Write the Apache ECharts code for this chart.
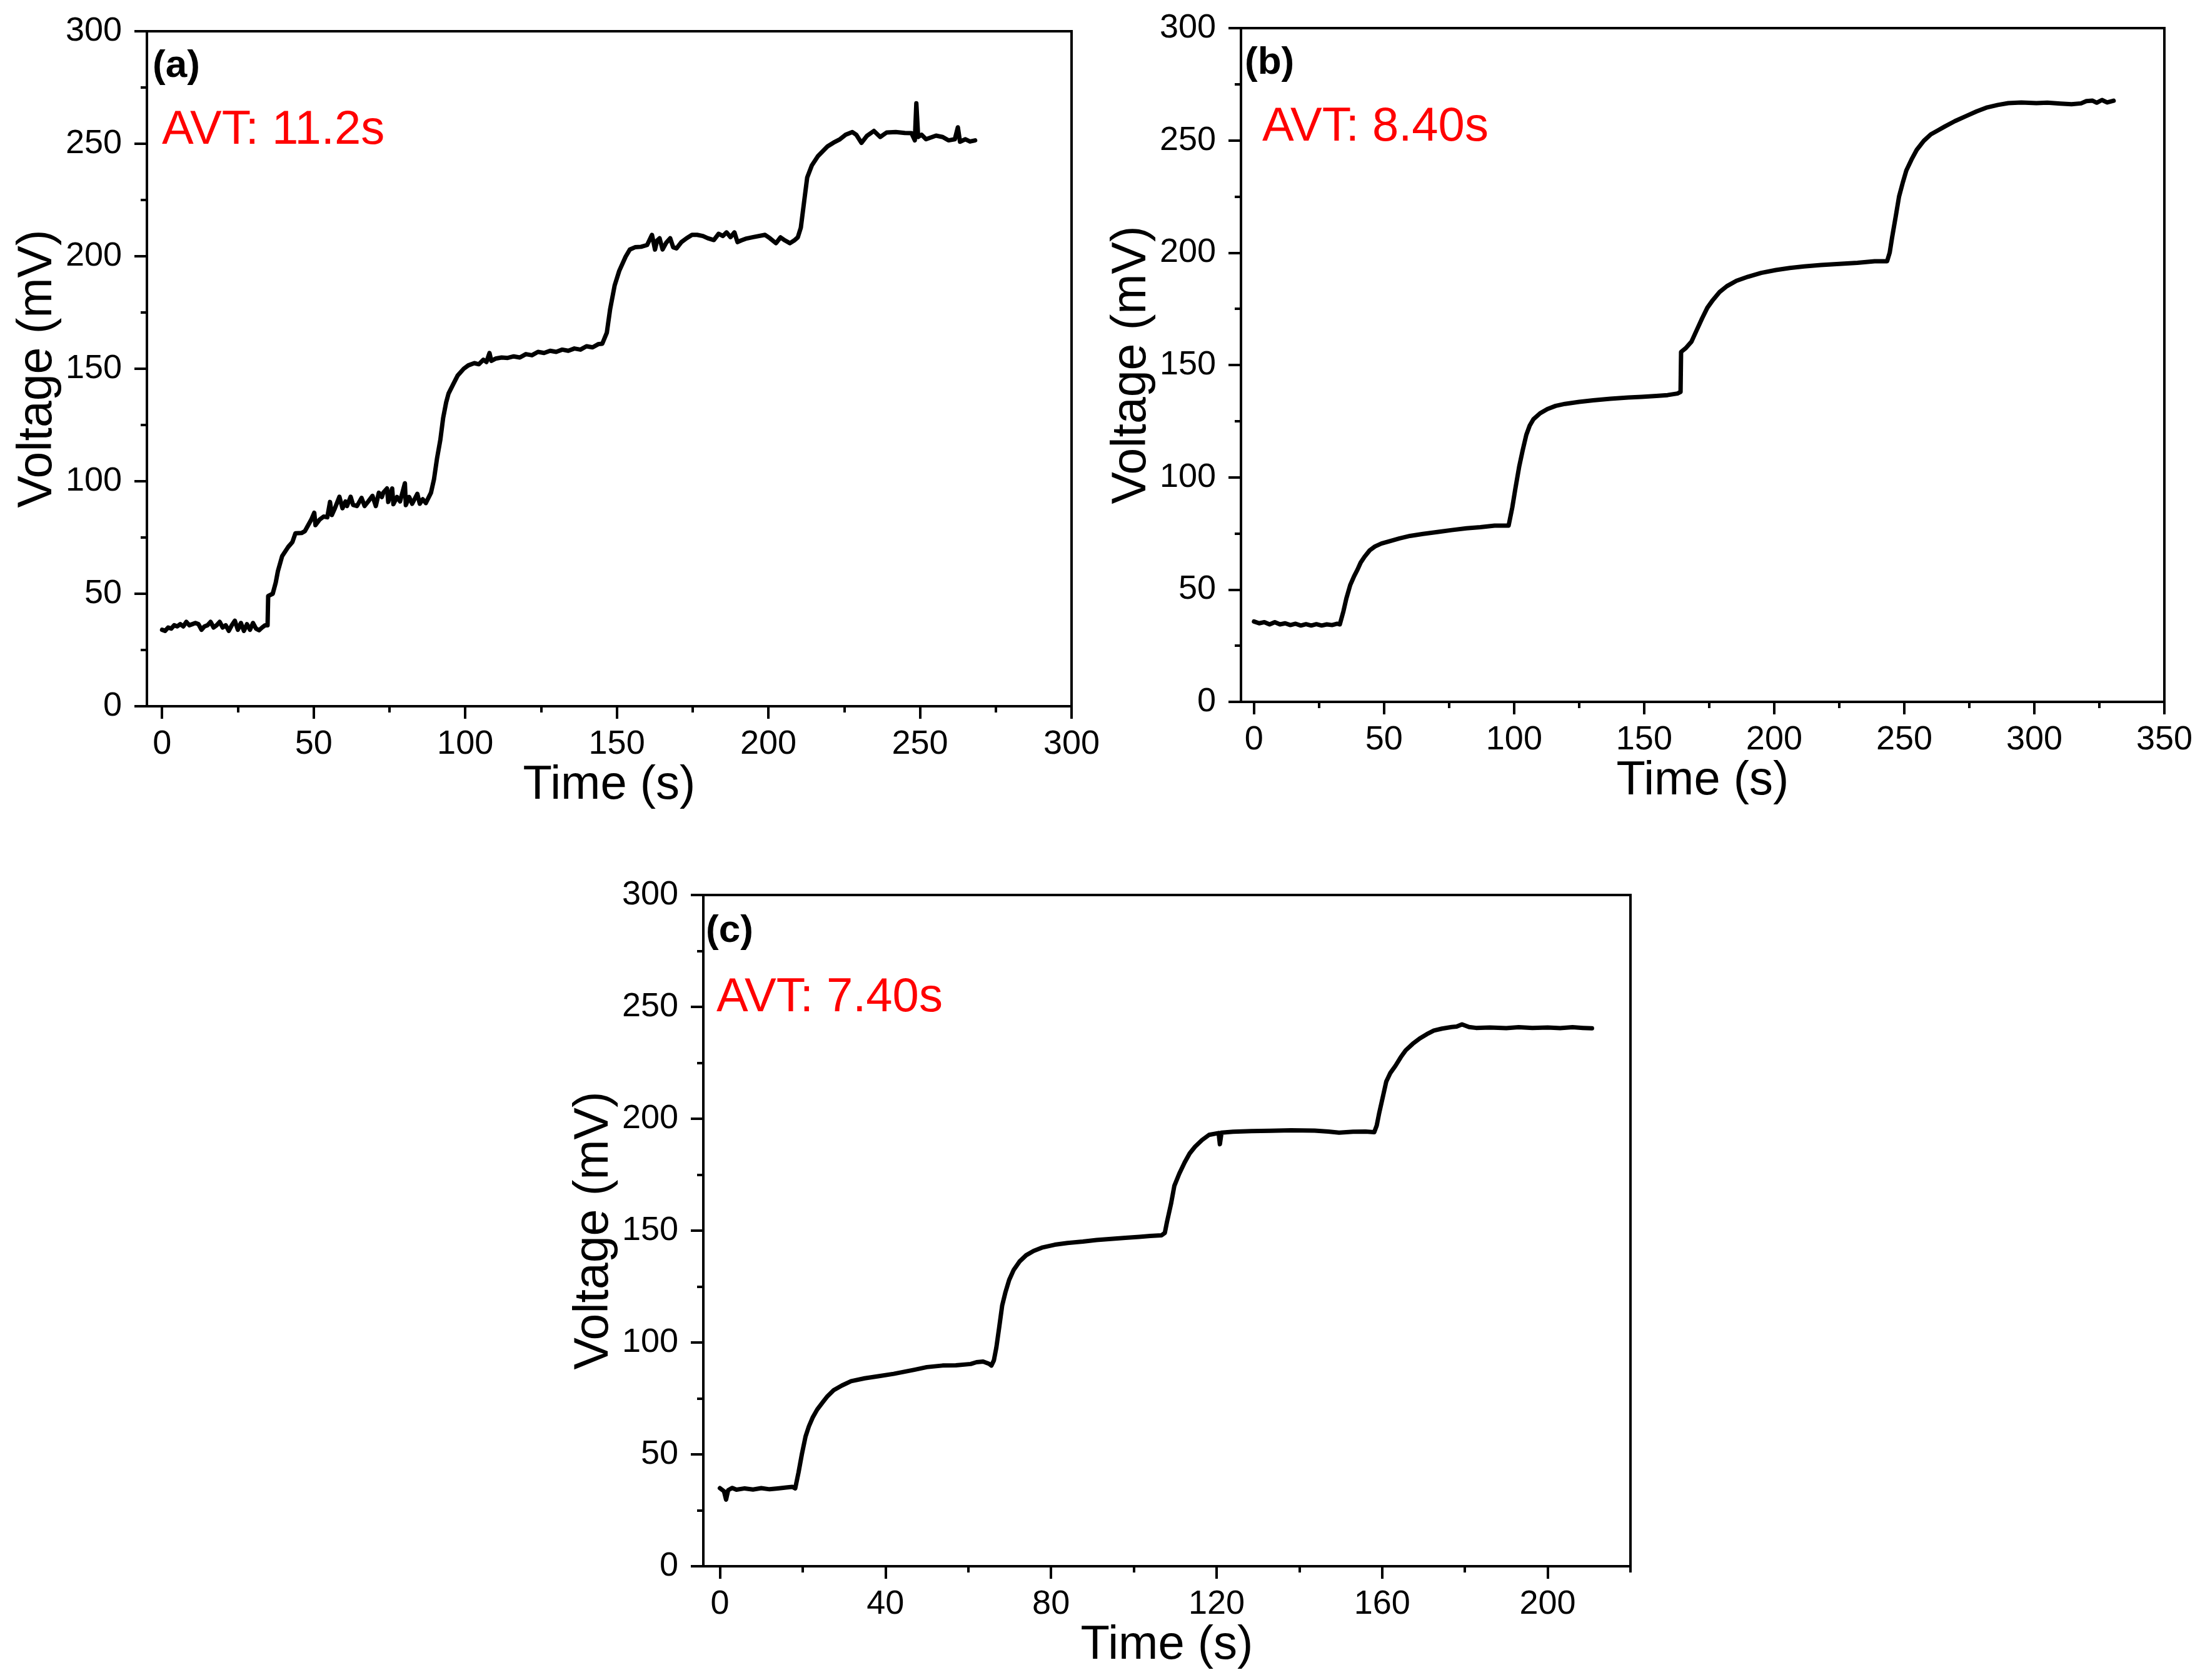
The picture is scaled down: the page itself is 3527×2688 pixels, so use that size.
<!DOCTYPE html>
<html>
<head>
<meta charset="utf-8">
<title>AVT voltage steps</title>
<script src="https://cdn.jsdelivr.net/npm/echarts@6/dist/echarts.min.js"></script>
<style>
  html, body { margin: 0; padding: 0; background: #fff; }
  #chart { width: 3527px; height: 2688px; }
</style>
</head>
<body>
<div id="chart"></div>
<script>
// voltage traces, [time (s), voltage (mV)]
const traceA = [
  [0,34],[1,33.5],[2,35],[3,34.5],[4,36],[5,35.5],[6,36.5],[7,35.5],[8,37.5],[9,36],[10,36.5],[11,37],[12,36.5],
  [13,34],[14,35.5],[15,36],[16,37.5],[17,35],[18,36],[19,37.5],[20,35],[21,36],[22,33.5],[23,36],[24,38],
  [25,34],[26,37],[27,33.5],[28,36.5],[29,34],[30,37],[31,34.5],[32,33.8],[33,35],[34,36],[34.8,36],
  [35,49],[36.5,50],[37.5,55],[38.2,60],[39.6,66.7],[41.6,70.8],[43,73],[44,76.9],[46,77],[47.1,77.8],
  [48,80],[49.2,82.9],[50.2,86],[50.6,80.5],[52,83],[53.3,84.3],[54.5,84],[55.4,90.8],[56,85],[57,88],
  [58.5,93.1],[59.5,88],[60.5,91],[61,89],[62.2,93.1],[63,89.5],[64.3,89],[65.8,92.6],[66.8,89],[68,91],
  [69.4,93.5],[70.5,89],[71.5,94.9],[72.5,93],[73,95],[74.2,96.8],[74.6,90.8],[75.9,96.8],[76.3,89.8],
  [77.5,93],[78.5,91],[80.1,99.1],[80.4,89.4],[81.5,93],[82.5,90],[84.2,94.4],[85,90],[86,92],[87,90.3],
  [88.7,94.9],[89.7,100.9],[90.7,110.2],[91.8,118.5],[92.7,128],[93.7,135],[94.5,139],[96,143],[97.5,147],
  [99.5,150],[101,151.5],[103,152.5],[104.5,152],[106,154],[107,153],[108,157],[108.6,153.5],[110,154.5],
  [112,155],[114,154.8],[116,155.5],[118,155],[120,156.5],[122,156],[124,157.5],[126,157],[128,158],
  [130,157.5],[132,158.5],[134,158],[136,159],[138,158.5],[140,160],[142,159.5],[144,161],[145.2,161.1],
  [146.7,166],[147.8,176.5],[149.3,187.1],[150.8,193.5],[152.9,199.8],[154.3,203],[156,204],[158,204.2],
  [160,205],[161.6,209.5],[162.6,203],[163.3,207],[164.1,208],[165.1,203],[166.3,206],[167.6,208],
  [168.6,204],[169.7,203.5],[171.3,206.3],[173,208],[174.8,209.5],[176.5,209.5],[178.4,209],[180,208],
  [182,207.2],[183.6,210],[185,209],[186.2,210.6],[187.5,208.5],[188.8,210.6],[189.8,206.3],[191,207],
  [192.8,207.9],[195,208.5],[198.9,209.5],[200.5,208],[202.5,205.8],[204,208.4],[205.5,207],[207.1,205.8],
  [208.5,207],[209.7,208.4],[210.7,212.7],[211.8,224.4],[212.8,235],[214.3,240.3],[216.4,244.6],
  [219.5,248.8],[221.5,250.5],[223.6,252],[225.5,254],[227.7,255.2],[229,254],[230.7,250.4],[232.5,253.5],
  [234.8,255.7],[236.9,253],[239,255],[242,255.2],[245,254.8],[247.2,254.7],[248.3,251.5],[248.8,268],
  [249.1,268],[249.4,253],[250.5,254],[252,252],[255.3,253.6],[257.5,253],[259.4,251.5],[261.5,252],
  [262.5,257.3],[262.8,257.3],[263.2,250.9],[265,252],[266.5,251],[268.2,251.5]
];

const traceB = [
  [0,35.8],[2,35],[4,35.5],[6,34.5],[8,35.5],[10,34.5],[12,35],[14,34.2],[16,34.8],[18,34],[20,34.6],
  [22,34],[24,34.6],[26,34],[28,34.5],[30,34.2],[32,34.8],[33,34.5],[34.4,40.4],[35.5,46],[37,52],
  [38.5,56],[39.8,58.9],[41,62],[42.5,64.6],[44.5,67.5],[46.5,69.2],[49,70.5],[52,71.5],[56,72.8],
  [60,73.9],[65,74.8],[70.9,75.7],[76,76.5],[81.7,77.3],[87,77.8],[92.5,78.5],[97.9,78.5],[99.3,86.5],
  [100.5,95],[102,105],[103.3,112],[104.7,118.9],[106,123],[107.4,125.8],[110,128.5],[112.8,130.4],
  [116,131.8],[119.6,132.7],[125,133.6],[130.4,134.3],[137,135],[143.9,135.5],[149,135.8],[154.7,136.2],
  [159,136.6],[162.8,137.3],[164,138],[164.2,155.8],[166,157.5],[168.2,160.4],[170,165],[172.3,170.8],
  [174.3,175.5],[176.4,178.9],[179,182.5],[181.8,185.1],[185.5,187.5],[189.9,189.3],[195,191],
  [200.7,192.3],[206,193.2],[211.5,193.9],[218,194.5],[225,195],[232,195.5],[238.6,196.2],[243.4,196.2],
  [244.4,200],[245.3,206.6],[246.7,216],[248,225],[249.5,231.5],[250.8,236.6],[252.8,241.5],[254.8,245.8],
  [257.5,249.8],[260.2,252.7],[263,254.5],[265.6,256.2],[269.5,258.6],[273.7,260.8],[277.8,262.9],
  [281.9,264.7],[286,265.8],[290,266.6],[295,266.9],[300.8,266.6],[305,266.8],[310,266.4],[314.3,266.1],
  [318,266.5],[320,267.5],[322.4,267.7],[324,266.8],[326,268],[328,266.9],[330.5,267.7]
];

const traceC = [
  [0,34.9],[1,33.5],[1.5,29.8],[2,34],[3,35],[4,34.2],[6,34.8],[8,34.3],[10,34.9],[12,34.4],[14,34.8],
  [16,35.2],[17.5,35.5],[18.2,34.8],[19,41.9],[19.8,50],[20.7,58],[21.5,62.5],[22.4,66.4],[23.5,70],
  [24.9,73.4],[26,76],[27.5,78.7],[29.5,80.8],[31.7,82.7],[35,84],[38.5,85],[42,86],[47,87.8],[50,89],
  [53.8,89.7],[57,89.8],[60.6,90.4],[62,91.2],[63.6,91.5],[65,90.5],[65.6,89.7],[66.2,92],[66.8,97.8],
  [67.5,107],[68.2,116.5],[69,122.5],[69.9,128],[71,132.5],[72.4,136.2],[74,139],[75.8,140.9],[78,142.5],
  [80.9,143.7],[84,144.5],[87.7,145.1],[91,145.8],[94.5,146.3],[98,146.8],[101.3,147.2],[104,147.6],
  [106.7,147.9],[107.5,149],[108,153.7],[109,162],[109.8,170],[111,175.5],[112.3,180.5],[113.5,184.5],
  [114.8,187.5],[116.5,190.5],[118.2,192.8],[120.5,193.6],[120.8,188.6],[121.2,193.8],[124,194.2],
  [128.4,194.5],[133,194.6],[138,194.8],[143.7,194.7],[147,194.3],[149.6,193.8],[153,194.2],[156,194.3],
  [158.1,194],[158.7,197],[159.3,202.6],[160.2,210],[161,216.6],[162,220.5],[163.2,223.6],[164.5,227.5],
  [165.7,230.6],[167.4,233.5],[169.1,235.9],[170.8,237.8],[172.5,239.4],[174.5,240.3],[176.8,241],
  [178,241.2],[179.3,242.2],[181,241],[182.7,240.6],[186,240.8],[190,240.5],[193,240.9],[196.3,240.6],
  [200,240.8],[203,240.5],[206,240.9],[208.5,240.6],[210.7,240.4]
];

// tick values (major labelled, minor unlabelled)
const xMajorA = [0, 50, 100, 150, 200, 250, 300];
const xMinorA = [25, 75, 125, 175, 225, 275];
const xMajorB = [0, 50, 100, 150, 200, 250, 300, 350];
const xMinorB = [25, 75, 125, 175, 225, 275, 325];
const xMajorC = [0, 40, 80, 120, 160, 200];
const xMinorC = [20, 60, 100, 140, 180, 220];

const panelTags = ['(a)', '(b)', '(c)'];
const avtTexts = ['AVT: 11.2s', 'AVT: 8.40s', 'AVT: 7.40s'];

const FONT = 'Liberation Sans, Arial, sans-serif';

// pixel boxes of the three plots
const panels = [
  { box: { left: 235, top: 50, width: 1479, height: 1080 }, xmin: -5, xmax: 300, major: xMajorA, minor: xMinorA, data: traceA,
    tag: [244, 106], avt: [259, 209] },
  { box: { left: 1985, top: 45, width: 1477, height: 1078 }, xmin: -5, xmax: 350, major: xMajorB, minor: xMinorB, data: traceB,
    tag: [1991, 101], avt: [2019, 204] },
  { box: { left: 1125, top: 1432, width: 1483, height: 1074 }, xmin: -4, xmax: 220, major: xMajorC, minor: xMinorC, data: traceC,
    tag: [1129, 1490], avt: [1146, 1597] }
];

const grid = [], xAxis = [], yAxis = [], series = [], graphic = [];

panels.forEach((p, i) => {
  grid.push(Object.assign({ show: true, borderColor: '#000', borderWidth: 4, backgroundColor: 'transparent' }, p.box));

  // main x axis: line, major ticks, labels
  xAxis.push({
    type: 'value', gridIndex: i, position: 'bottom', min: p.xmin, max: p.xmax,
    name: 'Time (s)', nameLocation: 'middle', nameGap: 76,
    nameTextStyle: { fontSize: 76, fontFamily: FONT, color: '#000' },
    axisLine: { show: true, onZero: false, lineStyle: { color: '#000', width: 4 } },
    axisTick: { show: true, inside: false, length: 20, lineStyle: { color: '#000', width: 4 }, customValues: p.major },
    axisLabel: { show: true, margin: 34, fontSize: 54, fontFamily: FONT, color: '#000', customValues: p.major },
    splitLine: { show: false }
  });
  // overlay axis only for the short minor ticks
  xAxis.push({
    type: 'value', gridIndex: i, position: 'bottom', min: p.xmin, max: p.xmax,
    axisLine: { show: false },
    axisTick: { show: true, inside: false, length: 10, lineStyle: { color: '#000', width: 4 }, customValues: p.minor },
    axisLabel: { show: false },
    splitLine: { show: false }
  });

  yAxis.push({
    type: 'value', gridIndex: i, min: 0, max: 300, interval: 50,
    name: 'Voltage (mV)', nameLocation: 'middle', nameGap: 136,
    nameTextStyle: { fontSize: 77, fontFamily: FONT, color: '#000' },
    axisLine: { show: true, onZero: false, lineStyle: { color: '#000', width: 4 } },
    axisTick: { show: true, inside: false, length: 20, lineStyle: { color: '#000', width: 4 } },
    minorTick: { show: true, splitNumber: 2, length: 10, lineStyle: { color: '#000', width: 4 } },
    axisLabel: { margin: 40, fontSize: 54, fontFamily: FONT, color: '#000' },
    splitLine: { show: false }
  });

  series.push({
    type: 'line', xAxisIndex: i * 2, yAxisIndex: i, data: p.data,
    showSymbol: false, symbol: 'none', animation: false,
    lineStyle: { color: '#000', width: 7, join: 'round', cap: 'round' }
  });

  graphic.push({
    type: 'text', x: p.tag[0], y: p.tag[1],
    style: { text: panelTags[i], fontSize: 62, fontWeight: 'bold', fontFamily: FONT, fill: '#000', verticalAlign: 'middle' }
  });
  graphic.push({
    type: 'text', x: p.avt[0], y: p.avt[1],
    style: { text: avtTexts[i], fontSize: 76, fontFamily: FONT, fill: '#ff0000', verticalAlign: 'middle' }
  });
});

const chart = echarts.init(document.getElementById('chart'));
chart.setOption({
  backgroundColor: '#fff',
  animation: false,
  grid: grid,
  xAxis: xAxis,
  yAxis: yAxis,
  series: series,
  graphic: graphic
});
</script>
</body>
</html>
